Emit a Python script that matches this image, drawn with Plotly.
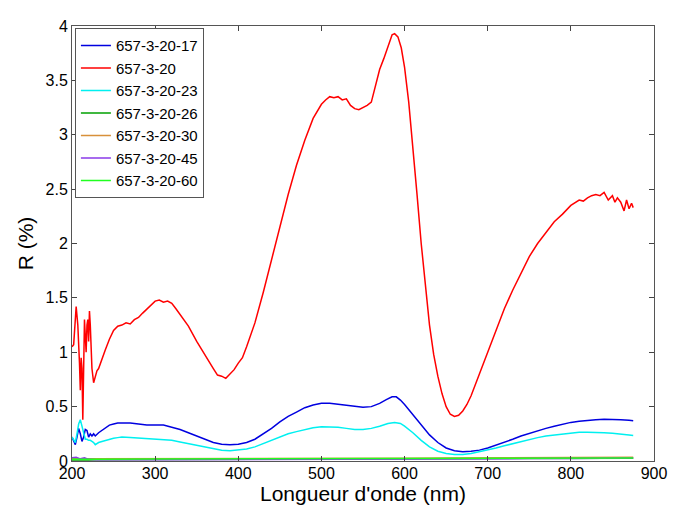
import plotly.graph_objects as go

# Wavelength (nm) and reflectance R (%)
wl_red = [200, 202, 205, 207, 209, 210, 211, 212, 213, 214, 215, 216, 217, 218, 219, 220, 221, 222, 223, 224, 226, 228, 230, 232, 235, 240, 245, 250, 255, 260, 265, 270, 275, 280, 285, 290, 295, 300, 305, 310, 315, 320, 325, 330, 340, 350, 360, 370, 375, 380, 385, 390, 395, 400, 405, 410, 420, 430, 440, 450, 460, 470, 480, 490, 500, 505, 510, 515, 520, 525, 530, 535, 540, 545, 550, 555, 560, 565, 570, 575, 580, 585, 588, 592, 596, 600, 605, 610, 615, 620, 625, 630, 635, 640, 645, 650, 655, 660, 665, 670, 675, 680, 690, 700, 710, 720, 730, 740, 750, 760, 770, 780, 790, 800, 810, 815, 820, 825, 830, 835, 840, 845, 850, 853, 856, 860, 864, 867, 870, 873, 875]
r_red = [1.05, 1.07, 1.42, 1.25, 0.9, 0.65, 0.95, 0.85, 0.38, 0.9, 1.3, 1.15, 1.0, 1.25, 1.3, 1.1, 1.38, 1.25, 1.0, 0.85, 0.72, 0.78, 0.83, 0.85, 0.92, 1.02, 1.12, 1.2, 1.24, 1.25, 1.27, 1.26, 1.3, 1.32, 1.36, 1.4, 1.44, 1.47, 1.48, 1.46, 1.47, 1.45, 1.4, 1.35, 1.24, 1.1, 0.97, 0.85, 0.79, 0.78, 0.76, 0.8, 0.84, 0.9, 0.95, 1.05, 1.27, 1.55, 1.85, 2.15, 2.45, 2.72, 2.95, 3.15, 3.28, 3.32, 3.35, 3.34, 3.35, 3.32, 3.33, 3.27, 3.24, 3.23, 3.25, 3.27, 3.3, 3.45, 3.6, 3.7, 3.82, 3.92, 3.93, 3.9, 3.8, 3.62, 3.3, 2.9, 2.45, 2.0, 1.6, 1.25, 0.98, 0.78, 0.62, 0.5, 0.43, 0.41, 0.42, 0.46, 0.52, 0.6, 0.8, 1.0, 1.2, 1.4, 1.57, 1.73, 1.88, 2.0, 2.1, 2.2, 2.27, 2.35, 2.4, 2.39, 2.42, 2.44, 2.45, 2.44, 2.47, 2.4, 2.44, 2.38, 2.42, 2.38, 2.3, 2.4, 2.32, 2.37, 2.33]

wl_blue = [200, 202, 204, 206, 208, 210, 212, 214, 216, 218, 220, 222, 224, 226, 228, 232, 236, 240, 245, 250, 255, 260, 270, 280, 290, 300, 305, 310, 320, 330, 340, 350, 360, 370, 380, 390, 400, 410, 420, 430, 440, 450, 460, 470, 480, 490, 500, 510, 520, 530, 540, 550, 560, 570, 578, 585, 590, 595, 600, 610, 620, 630, 640, 650, 660, 670, 680, 690, 700, 710, 720, 730, 740, 750, 760, 770, 780, 790, 800, 810, 820, 830, 840, 850, 860, 870, 875]
r_blue = [0.22, 0.18, 0.15, 0.22, 0.3, 0.25, 0.18, 0.22, 0.29, 0.28, 0.22, 0.25, 0.23, 0.25, 0.23, 0.26, 0.28, 0.3, 0.33, 0.34, 0.35, 0.35, 0.35, 0.34, 0.33, 0.33, 0.33, 0.33, 0.31, 0.29, 0.26, 0.23, 0.2, 0.17, 0.155, 0.15, 0.155, 0.17, 0.2, 0.25, 0.3, 0.36, 0.41, 0.45, 0.49, 0.515, 0.53, 0.53, 0.52, 0.51, 0.5, 0.495, 0.5, 0.53, 0.565, 0.59, 0.59, 0.56, 0.52, 0.43, 0.33, 0.24, 0.17, 0.12, 0.095, 0.085, 0.09, 0.1, 0.12, 0.145, 0.17, 0.2, 0.23, 0.255, 0.28, 0.3, 0.32, 0.34, 0.355, 0.365, 0.375, 0.38, 0.385, 0.385, 0.38, 0.375, 0.37]

wl_cyan = [200, 202, 204, 206, 208, 210, 212, 214, 216, 218, 220, 222, 224, 226, 228, 232, 236, 240, 245, 250, 255, 260, 270, 280, 290, 300, 310, 320, 330, 340, 350, 360, 370, 380, 390, 400, 410, 420, 430, 440, 450, 460, 470, 480, 490, 500, 510, 520, 530, 540, 550, 560, 570, 580, 588, 595, 600, 610, 620, 630, 640, 650, 660, 670, 680, 690, 700, 710, 720, 730, 740, 750, 760, 770, 780, 790, 800, 810, 820, 830, 840, 850, 860, 870, 875]
r_cyan = [0.22, 0.2, 0.17, 0.25, 0.34, 0.38, 0.33, 0.26, 0.2, 0.2, 0.19, 0.19, 0.18, 0.17, 0.15, 0.17, 0.18, 0.19, 0.2, 0.21, 0.215, 0.22, 0.215, 0.21, 0.205, 0.2, 0.195, 0.19, 0.175, 0.16, 0.14, 0.125, 0.11, 0.1, 0.095, 0.1, 0.11, 0.13, 0.16, 0.19, 0.22, 0.25, 0.27, 0.29, 0.305, 0.315, 0.315, 0.31, 0.3, 0.29, 0.29, 0.3, 0.32, 0.345, 0.355, 0.345, 0.32, 0.26, 0.19, 0.13, 0.09, 0.07, 0.06, 0.06, 0.07, 0.085, 0.1, 0.12, 0.14, 0.16, 0.18, 0.2, 0.215, 0.23, 0.24, 0.25, 0.26, 0.265, 0.265, 0.265, 0.26, 0.255, 0.25, 0.24, 0.235]

wl_low = [200, 205, 210, 215, 220, 230, 300, 400, 500, 600, 650, 700, 750, 800, 850, 875]
r_26 = [0.01, 0.012, 0.01, 0.011, 0.01, 0.012, 0.013, 0.014, 0.015, 0.016, 0.017, 0.02, 0.022, 0.024, 0.025, 0.025]
r_30 = [0.02, 0.022, 0.021, 0.02, 0.02, 0.02, 0.021, 0.022, 0.024, 0.026, 0.027, 0.03, 0.031, 0.032, 0.033, 0.034]
r_45 = [0.03, 0.035, 0.02, 0.03, 0.015, 0.012, 0.012, 0.013, 0.014, 0.016, 0.018, 0.02, 0.022, 0.024, 0.026, 0.027]
r_60 = [0.015, 0.016, 0.015, 0.015, 0.016, 0.017, 0.018, 0.019, 0.02, 0.021, 0.022, 0.024, 0.026, 0.027, 0.028, 0.028]

x_ticks = [200, 300, 400, 500, 600, 700, 800, 900]
y_ticks = [0, 0.5, 1, 1.5, 2, 2.5, 3, 3.5, 4]
y_tick_text = ["0", "0.5", "1", "1.5", "2", "2.5", "3", "3.5", "4"]

series = [
    ("657-3-20-17", wl_blue, r_blue, "#0000e0"),
    ("657-3-20", wl_red, r_red, "#ff0000"),
    ("657-3-20-23", wl_cyan, r_cyan, "#00f0f0"),
    ("657-3-20-26", wl_low, r_26, "#00a000"),
    ("657-3-20-30", wl_low, r_30, "#d8903a"),
    ("657-3-20-45", wl_low, r_45, "#8a3ae8"),
    ("657-3-20-60", wl_low, r_60, "#20ff20"),
]

fig = go.Figure()
for name, x, y, c in series:
    fig.add_trace(go.Scatter(x=x, y=y, mode="lines", name=name,
                             line=dict(color=c, width=1.5)))

font = "Liberation Sans, Arial, sans-serif"
# page body has an 8px margin, so the figure is sized/offset to compensate
fig.update_layout(
    width=669, height=504,
    margin=dict(l=64, r=19, t=10, b=51),
    paper_bgcolor="white", plot_bgcolor="white",
    font=dict(family=font, size=16, color="black"),
    showlegend=True,
    legend=dict(x=0.005, y=0.995, xanchor="left", yanchor="top",
                bgcolor="white", bordercolor="#555555", borderwidth=1,
                font=dict(size=15, family=font), tracegroupgap=0,
                itemwidth=30),
    xaxis=dict(range=[200, 900], tickvals=x_ticks, ticks="inside", ticklen=5,
               showline=True, mirror="ticks", linecolor="#555555", linewidth=1,
               showgrid=False, zeroline=False, ticklabelstandoff=-2,
               title=dict(text="Longueur d'onde (nm)", font=dict(size=21), standoff=0)),
    yaxis=dict(range=[0, 4], tickvals=y_ticks, ticktext=y_tick_text, ticks="inside", ticklen=5,
               showline=True, mirror="ticks", linecolor="#555555", linewidth=1,
               showgrid=False, zeroline=False,
               title=dict(text="R (%)", font=dict(size=21), standoff=6)),
)

fig.write_html("out.html")
